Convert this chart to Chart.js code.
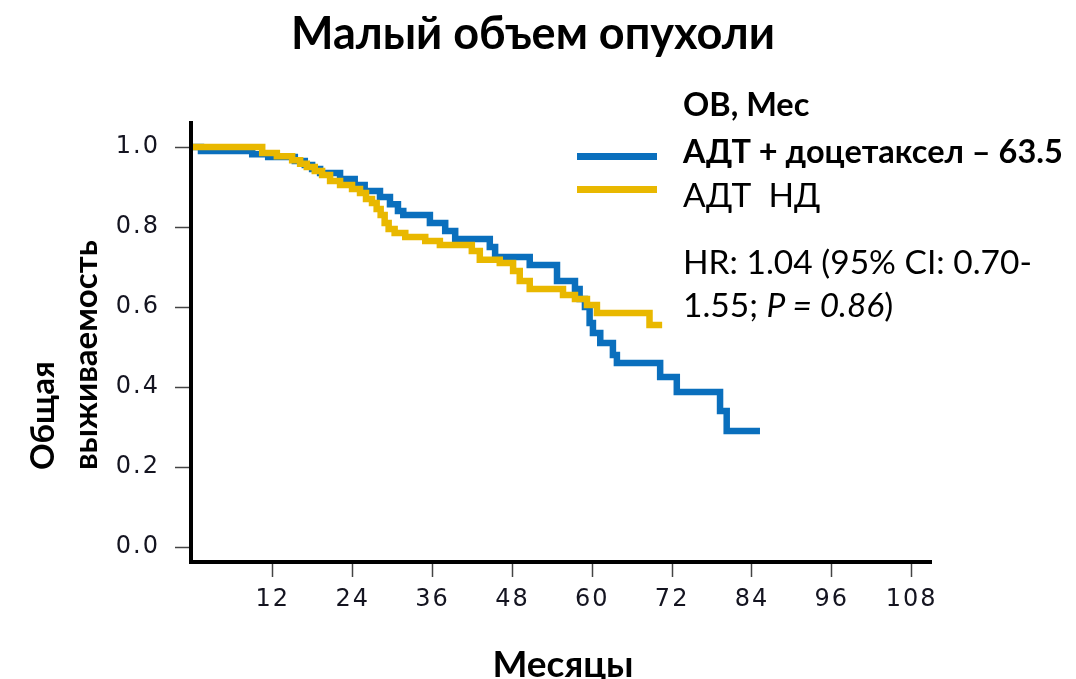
<!DOCTYPE html>
<html>
<head>
<meta charset="utf-8">
<script src="https://cdn.jsdelivr.net/npm/chart.js@4.4.1/dist/chart.umd.min.js"></script>
<style>
  html, body { margin: 0; padding: 0; background: #fff; }
  #wrap { position: relative; width: 1076px; height: 679px; overflow: hidden; font-family: Lato, "Open Sans", sans-serif; color: #000; }
  #chart { position: absolute; left: 0; top: 0; }
  .t { position: absolute; white-space: nowrap; line-height: 1; }
  .sw { position: absolute; height: 7px; }
</style>
</head>
<body>
<div id="wrap">
  <canvas id="chart" width="1076" height="679"></canvas>
  <div class="t" id="title" style="left:0;width:1066px;text-align:center;top:10px;font-size:45px;font-weight:700;">Малый объем опухоли</div>
  <div class="t" id="xtitle" style="left:0;width:1126px;text-align:center;top:644px;font-size:37px;font-weight:700;">Месяцы</div>
  <div class="t" id="ytitle" style="left:0;top:0;transform-origin:0 0;transform:translate(20px,470px) rotate(-90deg);font-size:33px;font-weight:700;line-height:43px;text-align:left;">Общая<br>выживаемость</div>
  <div class="sw" style="left:577px;width:80px;top:153px;background:#0A6FBD;"></div>
  <div class="sw" style="left:577px;width:80px;top:186px;background:#E9B800;"></div>
  <div class="t" style="left:683px;top:88px;font-size:32.5px;font-weight:700;">ОВ, Мес</div>
  <div class="t" style="left:683px;top:135px;font-size:32.5px;font-weight:700;">АДТ + доцетаксел – 63.5</div>
  <div class="t" style="left:683px;top:178px;font-size:33.5px;">АДТ&nbsp; НД</div>
  <div class="t" style="left:683px;top:245px;font-size:33.5px;">HR: 1.04 (95% CI: 0.70-</div>
  <div class="t" style="left:683px;top:288px;font-size:33.5px;">1.55; <i>P = 0.86</i>)</div>
</div>
<script>
// ---- Data ----
// Kaplan–Meier steps: time of event (months) and survival after it
const adtMonths    = [0, 10.4, 12.6, 14.9, 16.1, 17.1, 18.3, 19.4, 20.6, 22.1, 23.9, 25.1, 26.0, 26.9, 27.6, 28.2, 28.8, 29.4, 30.3, 31.9, 34.9, 37.1, 41.9, 43.1, 46.1, 48.1, 49.1, 50.6, 55.6, 57.4, 59.2, 60.7, 68.6, 70.5];
const adtSurvival  = [1.0, 0.985, 0.977, 0.967, 0.958, 0.95, 0.94, 0.93, 0.915, 0.905, 0.895, 0.885, 0.87, 0.86, 0.845, 0.83, 0.81, 0.795, 0.785, 0.775, 0.765, 0.755, 0.74, 0.718, 0.71, 0.69, 0.665, 0.645, 0.63, 0.62, 0.605, 0.585, 0.555, 0.555];

const docMonths    = [0, 1.2, 8.9, 11.3, 15.3, 16.8, 17.9, 19.1, 22.1, 24.3, 25.8, 28.1, 29.6, 30.8, 31.6, 35.6, 37.9, 39.4, 44.6, 45.4, 50.6, 54.7, 57.4, 58.1, 58.9, 59.6, 60.1, 61.2, 63.1, 63.7, 70.2, 72.7, 79.2, 80.2, 85.2];
const docSurvival  = [1.0, 0.99, 0.982, 0.975, 0.965, 0.955, 0.945, 0.935, 0.92, 0.905, 0.89, 0.875, 0.857, 0.84, 0.83, 0.81, 0.79, 0.77, 0.75, 0.725, 0.705, 0.665, 0.645, 0.62, 0.6, 0.56, 0.535, 0.51, 0.48, 0.46, 0.425, 0.3875, 0.34, 0.29, 0.29];

const xTickValues = [12, 24, 36, 48, 60, 72, 84, 96, 108];
const yTickValues = [0.0, 0.2, 0.4, 0.6, 0.8, 1.0];
const seriesNames = ['АДТ', 'АДТ + доцетаксел'];

const toPoints = (xs, ys) => xs.map((x, i) => ({ x: x, y: ys[i] }));

const letterSpacingPlugin = {
  id: 'tickSpacing',
  beforeDraw(chart) { chart.ctx.save(); if ('letterSpacing' in chart.ctx) chart.ctx.letterSpacing = '2px'; },
  beforeDatasetsDraw(chart) { if ('letterSpacing' in chart.ctx) chart.ctx.letterSpacing = '0px'; },
  afterDraw(chart) { chart.ctx.restore(); }
};

const tickFont = { family: '"DejaVu Sans", Verdana, sans-serif', size: 24 };

new Chart(document.getElementById('chart'), {
  type: 'line',
  data: {
    datasets: [
      { label: seriesNames[0], data: toPoints(adtMonths, adtSurvival), borderColor: '#E9B800', borderWidth: 6.5, stepped: 'before', pointRadius: 0, fill: false, borderCapStyle: 'butt', borderJoinStyle: 'miter' },
      { label: seriesNames[1], data: toPoints(docMonths, docSurvival), borderColor: '#0A6FBD', borderWidth: 6.5, stepped: 'before', pointRadius: 0, fill: false, borderCapStyle: 'butt', borderJoinStyle: 'miter' }
    ]
  },
  options: {
    responsive: false,
    animation: false,
    events: [],
    layout: { padding: { left: 0, right: 145, top: 123, bottom: 0 } },
    plugins: { legend: { display: false }, title: { display: false }, tooltip: { enabled: false } },
    scales: {
      x: {
        type: 'linear', min: -0.3, max: 110.9,
        afterFit(s) { s.height = 117; },
        afterBuildTicks(s) { s.ticks = xTickValues.map(v => ({ value: v })); },
        border: { display: true, color: '#000', width: 4 },
        grid: { display: true, drawOnChartArea: false, drawTicks: true, tickLength: 15, tickColor: '#444', tickWidth: 1.5 },
        ticks: { padding: 8, color: '#141420', font: tickFont, maxRotation: 0, autoSkip: false, callback: v => String(v) }
      },
      y: {
        type: 'linear', min: -0.0375, max: 1.06,
        afterFit(s) { s.width = 191; },
        afterBuildTicks(s) { s.ticks = yTickValues.map(v => ({ value: v })); },
        border: { display: true, color: '#000', width: 4 },
        grid: { display: true, drawOnChartArea: false, drawTicks: true, tickLength: 16, tickColor: '#444', tickWidth: 1.5 },
        ticks: { padding: 15, color: '#141420', font: tickFont, autoSkip: false, callback: v => Number(v).toFixed(1) }
      }
    }
  },
  plugins: [letterSpacingPlugin]
});
</script>
</body>
</html>
